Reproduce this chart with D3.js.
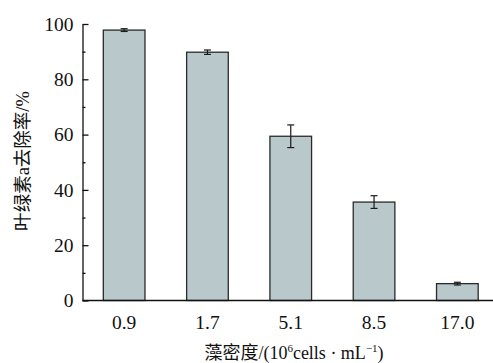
<!DOCTYPE html>
<html>
<head>
<meta charset="utf-8">
<script src="https://cdn.jsdelivr.net/npm/d3@7"></script>
<style>
  body { margin: 0; background: #fff; }
  text { font-family: "Liberation Serif", "Times New Roman", "Noto Sans CJK SC", serif; fill: #111; }
</style>
</head>
<body>
<div id="chart"></div>
<script>
// algae density categories and chlorophyll-a removal rate (%)
var categories = ["0.9", "1.7", "5.1", "8.5", "17.0"];
var removal = [97.8, 89.8, 59.4, 35.6, 6.1];
var errors = [0.5, 0.8, 4.1, 2.3, 0.5];
var yTicks = [0, 20, 40, 60, 80, 100];

var width = 493, height = 363;
var margin = { top: 24, right: 0, bottom: 63, left: 82.5 };

var svg = d3.select("#chart").append("svg")
    .attr("width", width)
    .attr("height", height);

var x = d3.scaleBand()
    .domain(categories)
    .range([margin.left, margin.left + 5 * 83.3])
    .paddingInner(0.5)
    .paddingOuter(0.25);

var y = d3.scaleLinear()
    .domain([0, 100])
    .range([height - margin.bottom + 0.5, margin.top]);

var data = categories.map(function (c, i) {
    return { cat: c, value: removal[i], err: errors[i] };
});

// bars
svg.selectAll(".bar")
    .data(data)
    .enter().append("rect")
    .attr("class", "bar")
    .attr("x", function (d) { return x(d.cat); })
    .attr("width", x.bandwidth())
    .attr("y", function (d) { return y(d.value); })
    .attr("height", function (d) { return y(0) - y(d.value); })
    .attr("fill", "#b9c8ca")
    .attr("stroke", "#2a2a2a")
    .attr("stroke-width", 1.3);

// error bars
var eb = svg.selectAll(".err")
    .data(data)
    .enter().append("g")
    .attr("class", "err")
    .attr("stroke", "#1a1a1a")
    .attr("stroke-width", 1.2);

eb.append("line")
    .attr("x1", function (d) { return x(d.cat) + x.bandwidth() / 2; })
    .attr("x2", function (d) { return x(d.cat) + x.bandwidth() / 2; })
    .attr("y1", function (d) { return y(d.value + d.err); })
    .attr("y2", function (d) { return y(d.value - d.err); });

[1, -1].forEach(function (s) {
    eb.append("line")
        .attr("x1", function (d) { return x(d.cat) + x.bandwidth() / 2 - 3.5; })
        .attr("x2", function (d) { return x(d.cat) + x.bandwidth() / 2 + 3.5; })
        .attr("y1", function (d) { return y(d.value + s * d.err); })
        .attr("y2", function (d) { return y(d.value + s * d.err); });
});

// y axis with inward ticks
var yAxis = svg.append("g")
    .attr("transform", "translate(" + margin.left + ",0)")
    .call(d3.axisLeft(y).tickValues(yTicks).tickSizeInner(-6).tickSizeOuter(0).tickPadding(9));

svg.append("g")
    .attr("transform", "translate(" + margin.left + ",0)")
    .call(d3.axisLeft(y).tickValues(d3.range(10, 100, 20)).tickSize(-3).tickFormat(""))
    .select(".domain").remove();

yAxis.selectAll("text").style("font-size", "19.5px").attr("fill", "#111");
svg.selectAll(".domain, .tick line").attr("stroke", "#111").attr("stroke-width", 1.3);

// x axis line + labels
svg.append("line")
    .attr("x1", margin.left)
    .attr("x2", width)
    .attr("y1", y(0))
    .attr("y2", y(0))
    .attr("stroke", "#111")
    .attr("stroke-width", 1.3);

svg.selectAll(".xlab")
    .data(categories)
    .enter().append("text")
    .attr("class", "xlab")
    .attr("x", function (d) { return x(d) + x.bandwidth() / 2; })
    .attr("y", 329)
    .attr("text-anchor", "middle")
    .style("font-size", "19.5px")
    .text(function (d) { return d; });

// axis titles
var xt = svg.append("text")
    .attr("x", 294)
    .attr("y", 359)
    .attr("text-anchor", "middle")
    .style("font-size", "18px");
xt.append("tspan").text("藻密度/(10");
xt.append("tspan").attr("dy", -7).style("font-size", "11px").text("6");
xt.append("tspan").attr("dy", 7).text("cells · mL");
xt.append("tspan").attr("dy", -7).style("font-size", "11px").text("−1");
xt.append("tspan").attr("dy", 7).text(")");

svg.append("text")
    .attr("transform", "translate(29,161) rotate(-90)")
    .attr("text-anchor", "middle")
    .style("font-size", "18.5px")
    .text("叶绿素a去除率/%");
</script>
</body>
</html>
